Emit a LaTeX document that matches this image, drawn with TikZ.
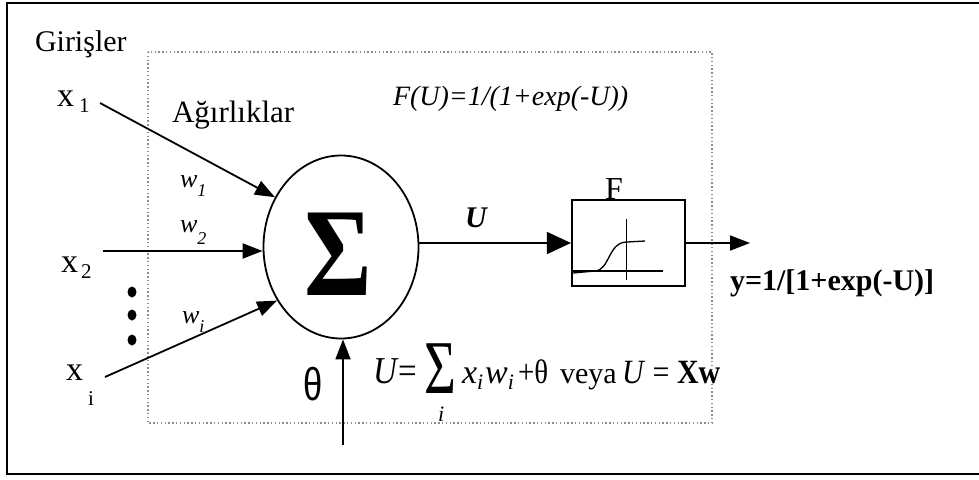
\documentclass[tikz,border=0pt]{standalone}
\usepackage{fontspec}
\setmainfont{Liberation Serif}
\newfontfamily\sansgr{Liberation Sans}
\usetikzlibrary{arrows.meta,shapes.geometric}
\newcommand\fsz[1]{\fontsize{#1}{#1}\selectfont}
\begin{document}
\begin{tikzpicture}[x=1pt,y=-1pt,
  lbl/.style={inner sep=0pt, outer sep=0pt, anchor=base west},
  clbl/.style={inner sep=0pt, outer sep=0pt, anchor=base},
  conn/.style={line width=1.8pt, -{Triangle[length=20pt,width=15pt]}},
  bigconn/.style={line width=1.8pt, -{Triangle[length=24pt,width=22pt]}},
  dotbox/.style={black!45, line width=1.4pt, dash pattern=on 1.4pt off 2.4pt},
  frame/.style={line width=2.2pt}]
\useasboundingbox (0,0) rectangle (979,479);
% outer frame (right side outside picture)
\draw[frame] (982,3) -- (7,3) -- (7,474) -- (982,474);
% dotted region
\draw[dotbox] (148,52) rectangle (712,423);

% summation node
\node[draw, ellipse, line width=1.8pt, minimum width=155pt, minimum height=183pt, inner sep=0pt] (sum) at (341,247) {};
\node[inner sep=0pt] (sig) at (338,254) {\scalebox{0.82}[1]{\fsz{126}\bfseries Σ}};

% activation box
\node[draw, line width=2.2pt, minimum width=113pt, minimum height=86pt, inner sep=0pt] (box) at (628.5,243) {};
\draw[line width=1.6pt] (573,271) -- (663,271);
\draw[line width=1pt] (626,219) -- (626,280);
\draw[line width=1.3pt] (573,273) -- (595,271) .. controls (610,270) and (608,242) .. (627,242) -- (645,241);
\node[clbl] (flbl) at (614,199) {\fsz{32}F};

% labels
\node[lbl] (gir) at (35,51) {\fsz{30}Girişler};
\node[lbl] (agr) at (172,122) {\fsz{31}Ağırlıklar};
\node[lbl] (x1) at (57,106) {\fsz{34}x\hspace{5pt}\raisebox{-6pt}{\fsz{21}1}};
\node[lbl] (x2) at (61,272) {\fsz{34}x\hspace{3pt}\raisebox{-6pt}{\fsz{21}2}};
\node[lbl] (xi) at (66,380) {\fsz{34}x\hspace{5pt}\raisebox{-25pt}{\fsz{21}i}};
\node[lbl] (w1) at (180,187) {\fsz{26}\itshape w\raisebox{-9pt}{\fsz{18}1}};
\node[lbl] (w2) at (180,232) {\fsz{26}\itshape w\raisebox{-12pt}{\fsz{18}2}};
\node[lbl] (wi) at (182,323) {\fsz{26}\itshape w\raisebox{-9pt}{\fsz{18}i}};
\node[lbl] (fu) at (393,105) {\fsz{28}\itshape F(U)=1/(1+exp(-U))};
\node[lbl] (ulbl) at (465,227) {\fsz{30}\bfseries\itshape U};
\node[lbl] (ylbl) at (730,290) {\fsz{30}\bfseries y=1/[1+exp(-U)]};
\node[clbl] (th) at (313,400) {\scalebox{0.75}[1]{\sansgr\fsz{46}θ}};

% formula
\node[lbl] (fa) at (373,383) {\scalebox{0.87}[1]{\fsz{38}\textit{U}=}};
\node[lbl] (fsig) at (424,393) {\rlap{\hspace{14pt}\raisebox{-28pt}{\fsz{22}\itshape i}}\scalebox{0.72}[1]{\fsz{76}Σ}};
\node[lbl] (fb) at (462,383) {\fsz{34}\itshape x\raisebox{-6pt}{\fsz{22}i}\hspace{2pt}w\raisebox{-6pt}{\fsz{22}i}};
\node[lbl] (fc) at (518,383) {\scalebox{0.85}[1]{\fsz{34}+θ}};
\node[lbl] (fd) at (560,383) {\fsz{30}veya};
\node[lbl] (fe) at (622,383) {\scalebox{0.88}[1]{\fsz{34}\textit{U} = \textbf{Xw}}};

% dots
\foreach \yy/\nm in {292/d1,315/d2,340/d3}
  \fill (132,\yy) ellipse[x radius=4.5pt, y radius=5.5pt];

% connectors
\coordinate (in1) at (100,103);
\coordinate (in2) at (103,251);
\coordinate (ini) at (105,377);
\coordinate (inth) at (343,445);
\coordinate (out) at (750,243);
\draw[conn] (in1) -- (sum.143);
\draw[conn] (in2) -- (in2 -| sum.west);
\draw[conn] (ini) -- (sum.220);
\draw[conn] (inth) -- (inth |- sum.south);
\draw[bigconn] (box.west -| sum.east) -- (box.west);
\draw[conn] (box.east) -- (out);
\end{tikzpicture}
\end{document}
